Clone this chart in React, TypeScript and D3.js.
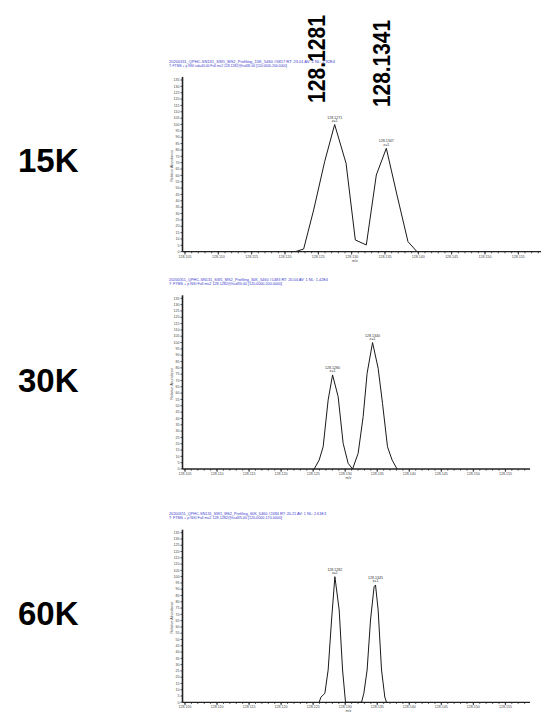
import React from "react";
import * as d3 from "d3";

// ---------- DATA ----------
const panelNames = ["15K", "30K", "60K"];

const headerLine1 = [
  "20200311_QPHC-SN131_SW1_MS2_Profiling_15K_5460 #5817 RT: 23.01 AV: 1 NL: 2.92E4",
  "20200311_QPHC-SN131_SW1_MS2_Profiling_30K_5460 #1483 RT: 20.04 AV: 1 NL: 1.42E4",
  "20200311_QPHC-SN131_SW1_MS2_Profiling_60K_5460 #2484 RT: 20.21 AV: 1 NL: 2.61E3",
];
const headerLine2 = [
  "T: FTMS + p NSI sid=40.00 Full ms2 128.1282@hcd35.00 [120.0000-200.0000]",
  "T: FTMS + p NSI Full ms2 128.1282@hcd35.00 [120.0000-200.0000]",
  "T: FTMS + p NSI Full ms2 128.1282@hcd35.00 [120.0000-170.0000]",
];

const mz15 = [128.12155, 128.1228, 128.1243, 128.12595, 128.12745, 128.12916, 128.13055, 128.1322, 128.1337, 128.1352, 128.1368, 128.13845, 128.1398];
const ab15 = [0, 2.1, 32.8, 70.8, 100, 69.5, 9.2, 5.3, 60.3, 81.3, 44.6, 7.9, 0];

const mz30 = [128.12516, 128.12594, 128.12656, 128.12734, 128.12803, 128.1289, 128.12968, 128.13046, 128.13115, 128.13202, 128.1328, 128.13342, 128.13427, 128.13514, 128.13582, 128.1366, 128.13732, 128.1381];
const ab30 = [0, 7.1, 17.6, 54.6, 74.4, 57.2, 20.3, 4.5, 0, 12.4, 41.4, 75.7, 100, 79.7, 52, 17.6, 7.1, 0];

const mz60 = [128.12594, 128.1262, 128.12683, 128.12734, 128.12787, 128.12839, 128.12906, 128.12959, 128.13005, 128.13255, 128.13291, 128.13342, 128.13395, 128.13451, 128.13473, 128.13514, 128.13567, 128.13618, 128.13645];
const ab60 = [0, 4, 7.2, 25.7, 65.5, 100, 73.5, 25.7, 0, 0, 7.2, 25.7, 65.5, 92, 93.4, 73.5, 25.7, 4.2, 0];

const peakMz15 = [128.12745, 128.1352];
const peakAb15 = [100, 81.3];
const peakText15 = ["128.1271", "128.1347"];
const peakMz30 = [128.12803, 128.13427];
const peakAb30 = [74.4, 100];
const peakText30 = ["128.1280", "128.1340"];
const peakMz60 = [128.12839, 128.13473];
const peakAb60 = [100, 93.4];
const peakText60 = ["128.1282", "128.1345"];

const xTickValues = [128.105, 128.11, 128.115, 128.12, 128.125, 128.13, 128.135, 128.14, 128.145, 128.15, 128.155];
const xTickLabels = ["128.105", "128.110", "128.115", "128.120", "128.125", "128.130", "128.135", "128.140", "128.145", "128.150", "128.155"];
const yTickValues = [0, 5, 10, 15, 20, 25, 30, 35, 40, 45, 50, 55, 60, 65, 70, 75, 80, 85, 90, 95, 100, 105, 110, 115, 120, 125, 130, 135];

const topLabels = ["128.1281", "128.1341"];

// ---------- LAYOUT ----------
const layouts = [
  { xl: 185, xr: 518.3, axisL: 182.5, axisR: 541, y0: 251.7, yTop: 80, headY: 63, w1: 166, w2: 118, nameY: 172 },
  { xl: 185, xr: 505.4, axisL: 182.5, axisR: 530, y0: 469, yTop: 298.3, headY: 280.5, w1: 159, w2: 113, nameY: 392 },
  { xl: 185, xr: 505.4, axisL: 182.5, axisR: 530, y0: 702.3, yTop: 532.7, headY: 514.5, w1: 157, w2: 113, nameY: 625 },
];

const series = [
  { mz: mz15, ab: ab15, pmz: peakMz15, pab: peakAb15, ptxt: peakText15 },
  { mz: mz30, ab: ab30, pmz: peakMz30, pab: peakAb30, ptxt: peakText30 },
  { mz: mz60, ab: ab60, pmz: peakMz60, pab: peakAb60, ptxt: peakText60 },
];

function Panel({ idx }: { idx: number }) {
  const L = layouts[idx];
  const S = series[idx];
  const x = d3.scaleLinear().domain([128.105, 128.155]).range([L.xl, L.xr]);
  const y = d3.scaleLinear().domain([0, 135]).range([L.y0, L.yTop]);
  const line = d3
    .line<number>()
    .x((_, i) => x(S.mz[i]))
    .y((d) => y(d));
  const minorTicks = d3.range(0, 54).map((i) => 128.105 + i * 0.001).filter((v) => x(v) <= L.axisR);
  const small = 3.6;
  return (
    <g>
      <text x={18} y={L.nameY} fontFamily="'Liberation Sans', Arial, sans-serif" fontWeight="bold" fontSize={33} fill="#000">
        {panelNames[idx]}
      </text>
      <g fontFamily="'Liberation Sans', Arial, sans-serif" fill="#3a3acc" fontSize={4.2}>
        <text x={169} y={L.headY} textLength={L.w1} lengthAdjust="spacingAndGlyphs">{headerLine1[idx]}</text>
        <text x={169} y={L.headY + 4} textLength={L.w2} lengthAdjust="spacingAndGlyphs">{headerLine2[idx]}</text>
      </g>
      {/* y axis */}
      <line x1={L.axisL} x2={L.axisL} y1={L.yTop - 3} y2={L.y0} stroke="#222" strokeWidth={1.6} />
      {yTickValues.map((v) => (
        <g key={v}>
          <line x1={L.axisL - 2} x2={L.axisL} y1={y(v)} y2={y(v)} stroke="#222" strokeWidth={0.8} />
          <text x={L.axisL - 3} y={y(v) + 1.2} textAnchor="end" fontSize={small} fill="#444" fontFamily="'Liberation Sans', Arial, sans-serif">
            {v}
          </text>
        </g>
      ))}
      <text
        transform={`translate(${L.axisL - 10},${(L.y0 + L.yTop) / 2}) rotate(-90)`}
        textAnchor="middle"
        fontSize={small}
        fill="#444"
        fontFamily="'Liberation Sans', Arial, sans-serif"
      >
        Relative Abundance
      </text>
      {/* x axis */}
      <line x1={L.axisL} x2={L.axisR} y1={L.y0} y2={L.y0} stroke="#222" strokeWidth={1.3} />
      {minorTicks.map((v, i) => (
        <line key={"m" + i} x1={x(v)} x2={x(v)} y1={L.y0} y2={L.y0 + 1.6} stroke="#222" strokeWidth={0.8} />
      ))}
      {xTickValues.map((v, i) => (
        <g key={"t" + i}>
          <line x1={x(v)} x2={x(v)} y1={L.y0} y2={L.y0 + 2.8} stroke="#222" strokeWidth={0.9} />
          <text x={x(v)} y={L.y0 + 6} textAnchor="middle" fontSize={small} fill="#444" fontFamily="'Liberation Sans', Arial, sans-serif">
            {xTickLabels[i]}
          </text>
        </g>
      ))}
      <text x={x(128.1305)} y={L.y0 + 10} textAnchor="middle" fontSize={small} fill="#444" fontFamily="'Liberation Sans', Arial, sans-serif">
        m/z
      </text>
      {/* profile */}
      <path d={line(S.ab) || ""} fill="none" stroke="#1a1a1a" strokeWidth={1} strokeLinejoin="round" />
      {S.pmz.map((m, i) => (
        <g key={"p" + i} fontFamily="'Liberation Sans', Arial, sans-serif" fontSize={small} fill="#333" textAnchor="middle">
          <text x={x(m)} y={y(S.pab[i]) - 6}>{S.ptxt[i]}</text>
          <text x={x(m)} y={y(S.pab[i]) - 2.5}>z=1</text>
        </g>
      ))}
    </g>
  );
}

export default function App() {
  return (
    <svg width={551} height={716} style={{ position: "absolute", left: 0, top: 0, background: "#fff" }}>
      <rect width={551} height={716} fill="#fff" />
      <text
        transform="translate(325,103) rotate(-90)"
        fontFamily="'Liberation Sans', Arial, sans-serif"
        fontWeight="bold"
        fontSize={24}
        textLength={88}
        lengthAdjust="spacingAndGlyphs"
        fill="#000"
      >
        {topLabels[0]}
      </text>
      <text
        transform="translate(390,107) rotate(-90)"
        fontFamily="'Liberation Sans', Arial, sans-serif"
        fontWeight="bold"
        fontSize={24}
        textLength={87}
        lengthAdjust="spacingAndGlyphs"
        fill="#000"
      >
        {topLabels[1]}
      </text>
      {[0, 1, 2].map((i) => (
        <Panel key={i} idx={i} />
      ))}
    </svg>
  );
}
